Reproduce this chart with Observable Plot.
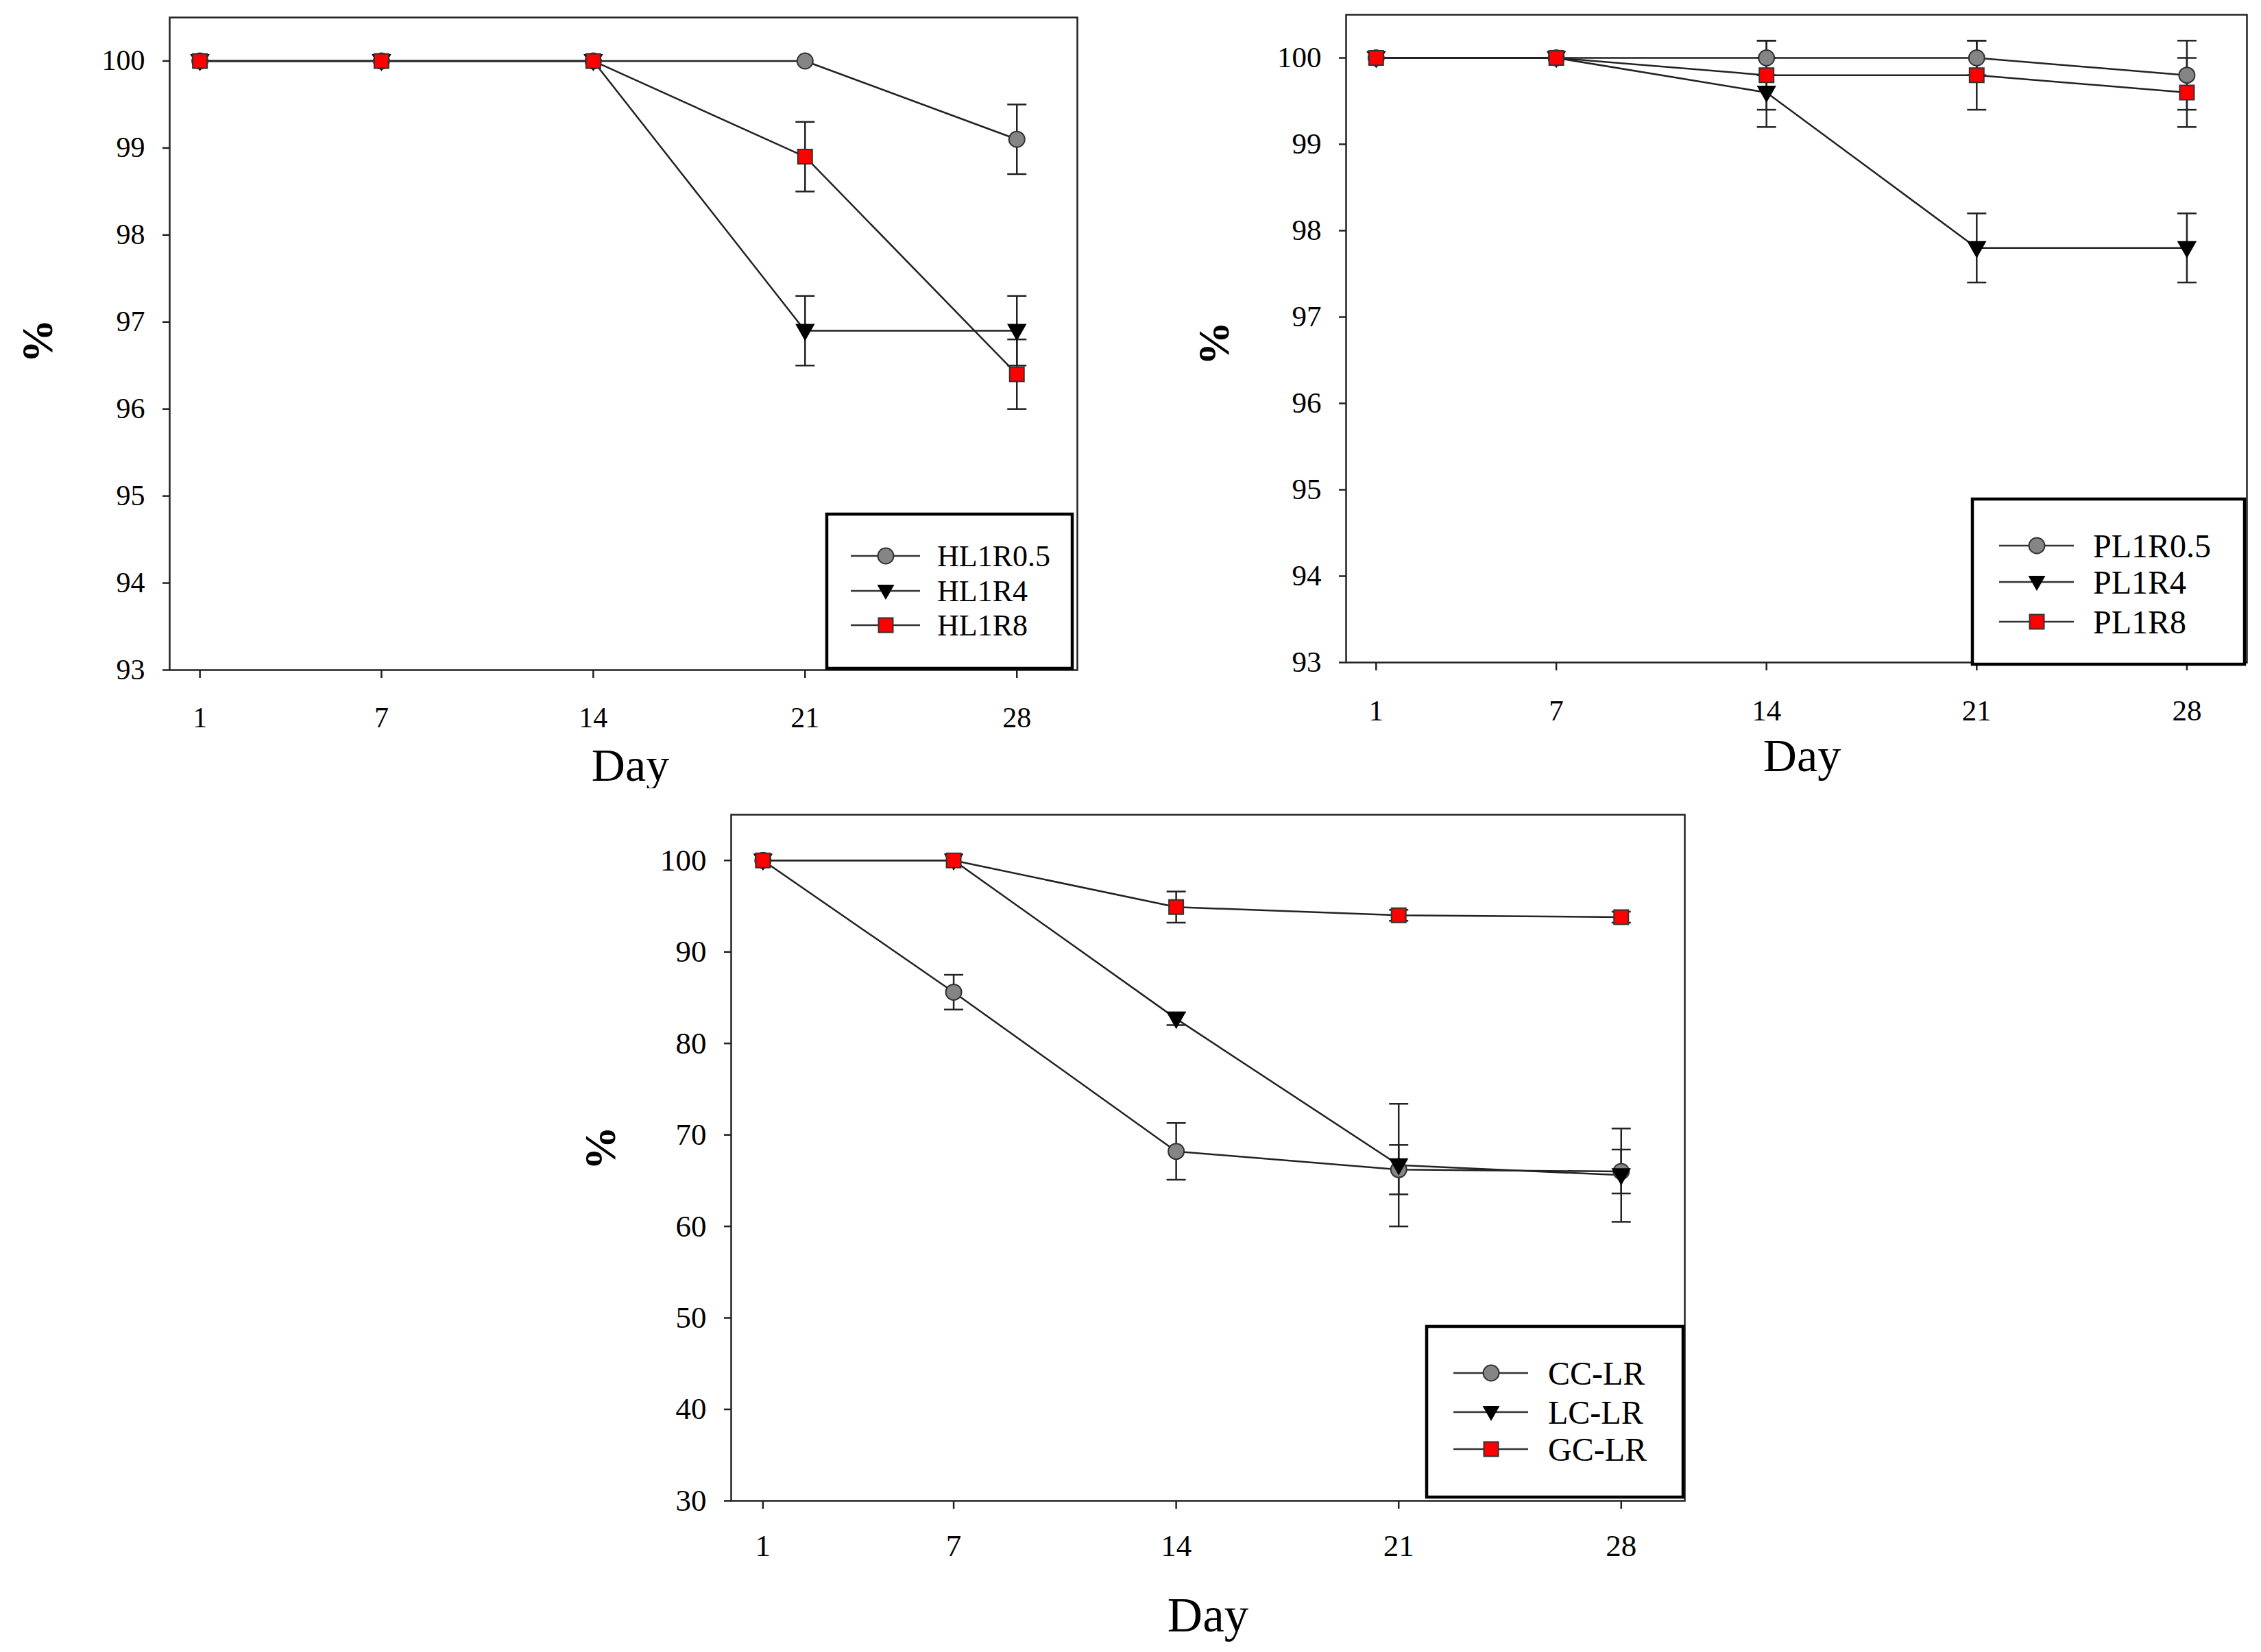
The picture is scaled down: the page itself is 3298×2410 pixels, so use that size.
<!DOCTYPE html>
<html><head><meta charset="utf-8">
<script src="https://cdn.jsdelivr.net/npm/d3@7"></script>
<script src="https://cdn.jsdelivr.net/npm/@observablehq/plot@0.6"></script>
<style>
html,body{margin:0;padding:0;background:#fff;}
#root{position:relative;width:3298px;height:2410px;background:#fff;overflow:hidden;}
.panel{position:absolute;}
</style></head><body><div id="root"></div>
<script>
// ---- data ----
const days = [1, 7, 14, 21, 28];
const dayTicks = [1, 7, 14, 21, 28];

const hlNames = ["HL1R0.5", "HL1R4", "HL1R8"];
const hl05 = [100, 100, 100, 100, 99.1];
const hl05Err = [0, 0, 0, 0, 0.4];
const hl4 = [100, 100, 100, 96.9, 96.9];
const hl4Err = [0, 0, 0, 0.4, 0.4];
const hl8 = [100, 100, 100, 98.9, 96.4];
const hl8Err = [0, 0, 0, 0.4, 0.4];
const hlTicks = [93, 94, 95, 96, 97, 98, 99, 100];

const plNames = ["PL1R0.5", "PL1R4", "PL1R8"];
const pl05 = [100, 100, 100, 100, 99.8];
const pl05Err = [0, 0, 0.2, 0.2, 0.4];
const pl4 = [100, 100, 99.6, 97.8, 97.8];
const pl4Err = [0, 0, 0.4, 0.4, 0.4];
const pl8 = [100, 100, 99.8, 99.8, 99.6];
const pl8Err = [0, 0, 0.4, 0.4, 0.4];
const plTicks = [93, 94, 95, 96, 97, 98, 99, 100];

const lrNames = ["CC-LR", "LC-LR", "GC-LR"];
const cc = [100, 85.6, 68.2, 66.2, 66.0];
const ccErr = [0, 1.9, 3.1, 2.7, 2.4];
const lc = [100, 100, 82.7, 66.7, 65.6];
const lcErr = [0, 0, 0.7, 6.7, 5.1];
const gc = [100, 100, 94.9, 94.0, 93.8];
const gcErr = [0, 0, 1.7, 0.6, 0.6];
const lrTicks = [30, 40, 50, 60, 70, 80, 90, 100];

// ---- symbols ----
const triDown = {draw(ctx) { ctx.moveTo(-12.5, -9); ctx.lineTo(12.5, -9); ctx.lineTo(0, 13); ctx.closePath(); }};
const sq = {draw(ctx) { ctx.rect(-10.5, -10.5, 21, 21); }};
const cap = {draw(ctx) { ctx.moveTo(-14, 0); ctx.lineTo(14, 0); }};
const styles = [
  {symbol: "circle", r: 11.5, fill: "#858585", stroke: "#333"},
  {symbol: triDown, r: 11, fill: "#000", stroke: "#000"},
  {symbol: sq, r: 11, fill: "#ff0000", stroke: "#333"}
];

function panel(cfg) {
  const rows = cfg.series.flatMap((s, i) => days.map((d, j) => ({name: s.name, idx: i, day: d, v: s.values[j], e: s.err[j]})));
  const errRows = rows.filter(r => r.e > 0);
  const ink = "#222";
  const marks = [
    Plot.frame({stroke: ink, strokeWidth: 2.5}),
    Plot.axisY({ticks: cfg.yTicks, tickSize: 10, tickPadding: 26, fontSize: cfg.tickFont, strokeWidth: 2.5, stroke: ink, label: null}),
    Plot.axisX({ticks: dayTicks, tickSize: 12, tickPadding: cfg.xPad, fontSize: cfg.tickFont, strokeWidth: 2.5, stroke: ink, label: null}),
    Plot.ruleX(errRows, {x: "day", y1: d => d.v - d.e, y2: d => d.v + d.e, stroke: ink, strokeWidth: 2.5}),
    Plot.dot(errRows, {x: "day", y: d => d.v + d.e, symbol: cap, r: 5, fill: "none", stroke: ink, strokeWidth: 2.5}),
    Plot.dot(errRows, {x: "day", y: d => d.v - d.e, symbol: cap, r: 5, fill: "none", stroke: ink, strokeWidth: 2.5}),
    ...cfg.series.map((s, i) => Plot.line(rows.filter(r => r.idx === i), {x: "day", y: "v", stroke: ink, strokeWidth: 2.5})),
    ...cfg.series.map((s, i) => Plot.dot(rows.filter(r => r.idx === i), {x: "day", y: "v", symbol: styles[i].symbol, r: styles[i].r, fill: styles[i].fill, stroke: styles[i].stroke, strokeWidth: 2})),
    Plot.text(["Day"], {frameAnchor: "bottom", lineAnchor: "middle", textAnchor: "middle", dy: cfg.dayDy, dx: cfg.dayDx, fontSize: cfg.dayFont, fill: "#000"}),
    Plot.text(["%"], {frameAnchor: "left", lineAnchor: "middle", textAnchor: "middle", dx: cfg.pctDx, dy: cfg.pctDy, rotate: -90, fontSize: 64, fontWeight: "bold", fill: "#000"})
  ];
  const svg = Plot.plot({
    width: cfg.width, height: cfg.height,
    marginLeft: cfg.m[0], marginRight: cfg.m[1], marginTop: cfg.m[2], marginBottom: cfg.m[3],
    x: {domain: [0, 30]},
    y: {domain: cfg.yDomain},
    style: {fontFamily: "'Liberation Serif', 'Times New Roman', serif", color: "#000", background: "white", maxWidth: "none", overflow: "visible"},
    marks
  });
  // legend box
  const L = cfg.legend;
  const g = d3.select(svg).append("g").attr("transform", `translate(${L.x},${L.y})`).attr("text-anchor", "start");
  g.append("rect").attr("x", 0).attr("y", 0).attr("width", L.w).attr("height", L.h)
    .attr("fill", "white").attr("stroke", "#000").attr("stroke-width", 4.5);
  cfg.series.forEach((s, i) => {
    const y = L.rows[i];
    g.append("line").attr("x1", L.x1).attr("x2", L.x2).attr("y1", y).attr("y2", y).attr("stroke", "#333").attr("stroke-width", 2.5);
    const mx = L.mx;
    if (i === 0) g.append("circle").attr("cx", mx).attr("cy", y).attr("r", 11.5).attr("fill", styles[0].fill).attr("stroke", "#333").attr("stroke-width", 2);
    if (i === 1) g.append("path").attr("d", `M${mx-12.5},${y-9}L${mx+12.5},${y-9}L${mx},${y+13}Z`).attr("fill", "#000");
    if (i === 2) g.append("rect").attr("x", mx-10.5).attr("y", y-10.5).attr("width", 21).attr("height", 21).attr("fill", "#ff0000").attr("stroke", "#333").attr("stroke-width", 2);
    g.append("text").attr("x", L.tx).attr("y", y).attr("dy", "0.35em").attr("text-anchor", "start").attr("font-size", L.font).attr("fill", "#000").text(s.name);
  });
  const div = document.createElement("div");
  div.className = "panel";
  div.style.left = cfg.left + "px";
  div.style.top = cfg.top + "px";
  div.style.width = cfg.width + "px";
  div.style.height = cfg.height + "px";
  div.appendChild(svg);
  document.getElementById("root").appendChild(div);
}

panel({
  left: 0, top: 0, width: 1640, height: 1160, m: [247, 69, 25, 183],
  yDomain: [93, 100.5], yTicks: hlTicks, tickFont: 42, xPad: 42,
  series: [
    {name: hlNames[0], values: hl05, err: hl05Err},
    {name: hlNames[1], values: hl4, err: hl4Err},
    {name: hlNames[2], values: hl8, err: hl8Err}
  ],
  dayDy: 140, dayDx: 10, dayFont: 68, pctDx: -192, pctDy: -4,
  legend: {x: 1206, y: 750, w: 358, h: 225, x1: 35, x2: 136, mx: 86, tx: 161, rows: [61, 112, 162], font: 44}
});

panel({
  left: 1650, top: 0, width: 1648, height: 1160, m: [313, 21, 21, 194],
  yDomain: [93, 100.5], yTicks: plTicks, tickFont: 43, xPad: 42,
  series: [
    {name: plNames[0], values: pl05, err: pl05Err},
    {name: plNames[1], values: pl4, err: pl4Err},
    {name: plNames[2], values: pl8, err: pl8Err}
  ],
  dayDy: 137, dayDx: 8, dayFont: 68, pctDx: -192, pctDy: 7,
  legend: {x: 1227, y: 728, w: 397, h: 241, x1: 39, x2: 148, mx: 94, tx: 176, rows: [68, 121, 179], font: 48}
});

panel({
  left: 800, top: 1150, width: 1700, height: 1260, m: [266, 43, 38, 221],
  yDomain: [30, 105], yTicks: lrTicks, tickFont: 45, xPad: 37,
  series: [
    {name: lrNames[0], values: cc, err: ccErr},
    {name: lrNames[1], values: lc, err: lcErr},
    {name: lrNames[2], values: gc, err: gcErr}
  ],
  dayDy: 168, dayDx: 0, dayFont: 71, pctDx: -190, pctDy: -14,
  legend: {x: 1281, y: 785, w: 374, h: 249, x1: 39, x2: 148, mx: 94, tx: 177, rows: [68, 125, 179], font: 48}
});
</script></body></html>
